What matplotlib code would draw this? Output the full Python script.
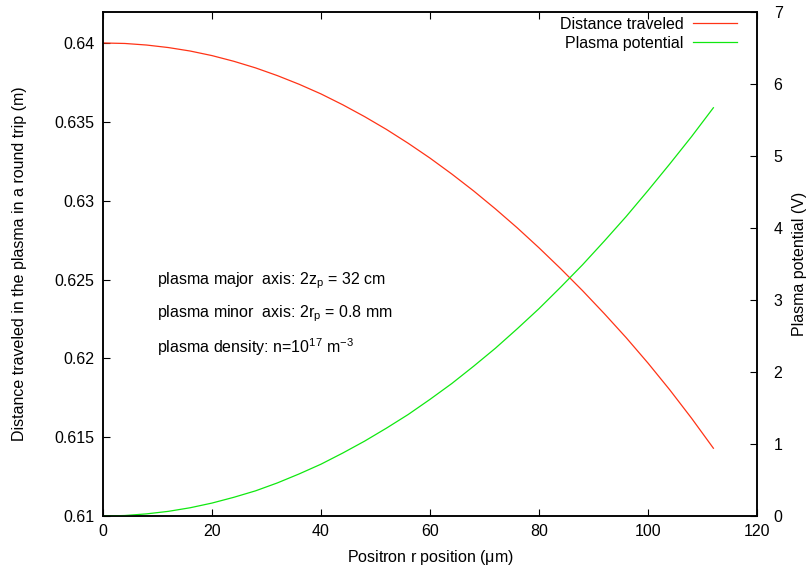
"""Distance traveled in the plasma (round trip) and plasma potential vs positron radial position."""

import matplotlib
matplotlib.use("Agg")
import matplotlib.pyplot as plt
from matplotlib.ticker import FuncFormatter

plt.rcParams["font.family"] = ["Liberation Sans", "DejaVu Sans"]
plt.rcParams["mathtext.fontset"] = "custom"
plt.rcParams["mathtext.rm"] = "Liberation Sans"
plt.rcParams["mathtext.it"] = "Liberation Sans"

# positron r position (um)
r_pos = [0, 4, 8, 12, 16, 20, 24, 28, 32, 36, 40, 44, 48, 52, 56,
         60, 64, 68, 72, 76, 80, 84, 88, 92, 96, 100, 104, 108, 112]
# distance traveled in a round trip (m), left axis
distance = [0.64000, 0.63997, 0.63987, 0.63971, 0.63949, 0.63920, 0.63884,
            0.63842, 0.63793, 0.63738, 0.63677, 0.63608, 0.63533, 0.63452,
            0.63364, 0.63270, 0.63169, 0.63062, 0.62948, 0.62828, 0.62701,
            0.62568, 0.62429, 0.62283, 0.62131, 0.61970, 0.61800, 0.61620,
            0.61430]
# plasma potential (V), right axis
potential = [0.0, 0.007, 0.03, 0.065, 0.115, 0.18, 0.26, 0.35, 0.46, 0.585,
             0.72, 0.875, 1.04, 1.22, 1.41, 1.62, 1.84, 2.08, 2.33, 2.60,
             2.88, 3.18, 3.49, 3.82, 4.16, 4.52, 4.89, 5.27, 5.67]

x_ticks = [0, 20, 40, 60, 80, 100, 120]
left_ticks = [0.61, 0.615, 0.62, 0.625, 0.63, 0.635, 0.64]
right_ticks = [0, 1, 2, 3, 4, 5, 6, 7]

notes = [
    r"plasma major  axis: 2z$_\mathregular{p}$ = 32 cm",
    r"plasma minor  axis: 2r$_\mathregular{p}$ = 0.8 mm",
    r"plasma density: n=10$^\mathregular{17}$ m$^\mathregular{-3}$",
]

RED = "#ff3316"
GREEN = "#10e810"
FS = 11.5

fig = plt.figure(figsize=(8.11, 5.68), dpi=100)
ax = fig.add_axes([0.127, 0.0915, 0.8064, 0.8874])
ax2 = ax.twinx()

l1, = ax.plot(r_pos, distance, color=RED, lw=0.9, label="Distance traveled")
l2, = ax2.plot(r_pos, potential, color=GREEN, lw=0.9, label="Plasma potential")

ax.set_xlim(0, 120)
# frame top sits above 0.64 so that 0.61..0.64 lines up with 0..7 on the right
ax.set_ylim(0.61, 0.61 + 0.03 * 504 / 473)
ax2.set_ylim(0, 7)
ax.set_xticks(x_ticks)
ax.set_yticks(left_ticks)
ax2.set_yticks(right_ticks)
ax.yaxis.set_major_formatter(FuncFormatter(lambda v, _: f"{v:g}"))

ax.tick_params(axis="both", direction="in", length=5, width=0.8, labelsize=FS,
               top=True, pad=6)
ax2.tick_params(axis="y", direction="in", length=5, width=0.8, labelsize=FS, pad=12)

for a in (ax, ax2):
    for sp in a.spines.values():
        sp.set_linewidth(1.1)

ax.set_xlabel(r"Positron r position ($\mathregular{\mu}$m)", fontsize=FS, labelpad=6)
ax.set_ylabel("Distance traveled in the plasma in a round trip (m)", fontsize=FS,
              labelpad=20)
ax2.set_ylabel("Plasma potential (V)", fontsize=FS, labelpad=7)

for i, txt in enumerate(notes):
    ax.text(9.9, 0.62495 - i * 0.00212, txt, fontsize=FS, va="center", ha="left")

ax2.legend(handles=[l1, l2], loc="upper right", frameon=False, markerfirst=False,
           fontsize=FS, handlelength=2.75, handletextpad=0.6, labelspacing=0.25,
           borderaxespad=0.0, bbox_to_anchor=(0.979, 1.003))

fig.savefig("out.png", dpi=100)
